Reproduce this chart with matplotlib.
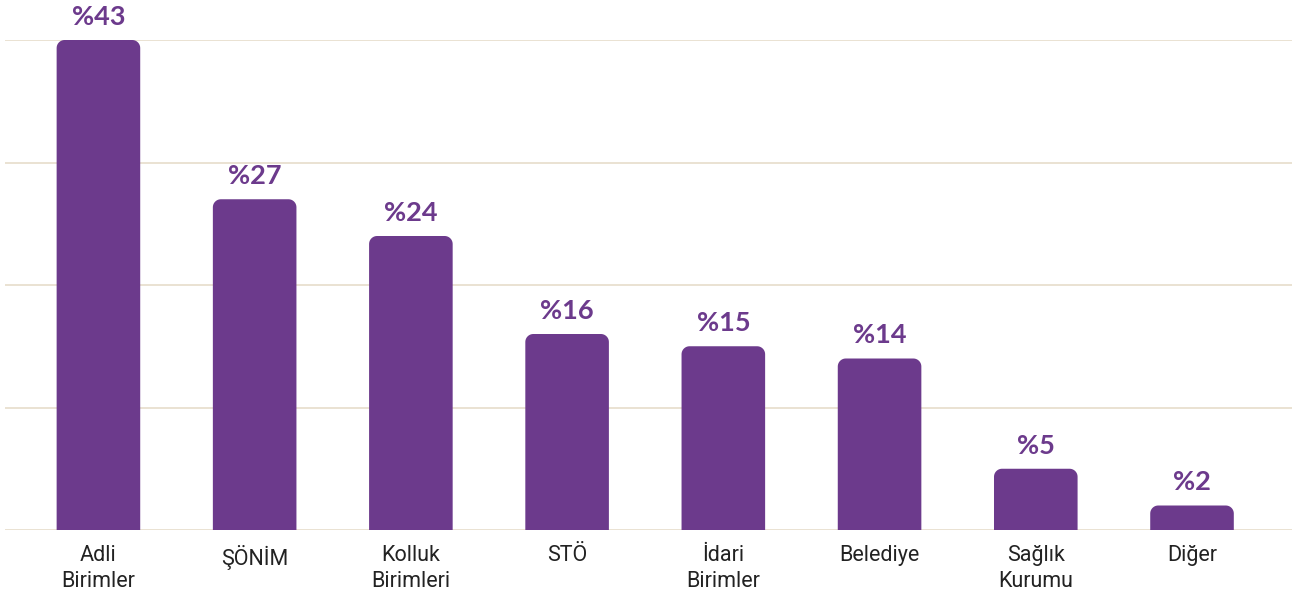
import matplotlib
matplotlib.use("Agg")
import matplotlib.pyplot as plt
from matplotlib.patches import PathPatch
from matplotlib.path import Path
import numpy as np

categories = ["Adli\nBirimler", "ŞÖNİM", "Kolluk\nBirimleri", "STÖ", "İdari\nBirimler",
              "Belediye", "Sağlık\nKurumu", "Diğer"]
values = [43, 27, 24, 16, 15, 14, 5, 2]
value_labels = ["%43", "%27", "%24", "%16", "%15", "%14", "%5", "%2"]
y_ticks = [0, 10, 20, 30, 40]

bar_color = "#6c3a8c"
grid_color = "#e6ddcb"
text_color = "#222222"

fig = plt.figure(figsize=(12.97, 5.97), dpi=100)
ax = fig.add_axes([5/1297, 67/597, 1287/1297, 490/597])

ymax = y_ticks[-1]
ax.set_ylim(0, ymax)
ax.set_xlim(-0.598, 7.64)

for t in y_ticks:
    ax.axhline(t, color=grid_color, lw=1.2, zorder=0)

width = 0.535
x = np.arange(len(values))
heights = np.minimum(values, ymax)
xppu = 156.3
yppu = 490 / ymax
rpx = 8
rx = rpx / xppu
ry = rpx / yppu


def top_rounded(x0, w, h):
    verts = [(x0, 0)]
    cx, cy = x0 + rx, h - ry
    for a in np.linspace(np.pi, np.pi / 2, 12):
        verts.append((cx + rx * np.cos(a), cy + ry * np.sin(a)))
    cx = x0 + w - rx
    for a in np.linspace(np.pi / 2, 0, 12):
        verts.append((cx + rx * np.cos(a), cy + ry * np.sin(a)))
    verts.append((x0 + w, 0))
    verts.append((x0, 0))
    codes = [Path.MOVETO] + [Path.LINETO] * (len(verts) - 2) + [Path.CLOSEPOLY]
    return Path(verts, codes)


for xi, h in zip(x, heights):
    ax.add_patch(PathPatch(top_rounded(xi - width / 2, width, h),
                           fc=bar_color, ec="none", zorder=2))

for xi, h, lab in zip(x, heights, value_labels):
    ax.annotate(lab, (xi, h), xytext=(0, 8), textcoords="offset points",
                ha="center", va="bottom", fontsize=19.5, fontweight="bold",
                color=bar_color, family=["Lato", "DejaVu Sans"])

ax.set_xticks(x)
ax.set_xticklabels(categories, fontsize=15.5, color=text_color, linespacing=1.3,
                   family=["Roboto", "DejaVu Sans"])
ax.tick_params(axis="x", length=0, pad=11)
ax.set_yticks([])
for s in ax.spines.values():
    s.set_visible(False)

fig.savefig("out.png", dpi=100)
